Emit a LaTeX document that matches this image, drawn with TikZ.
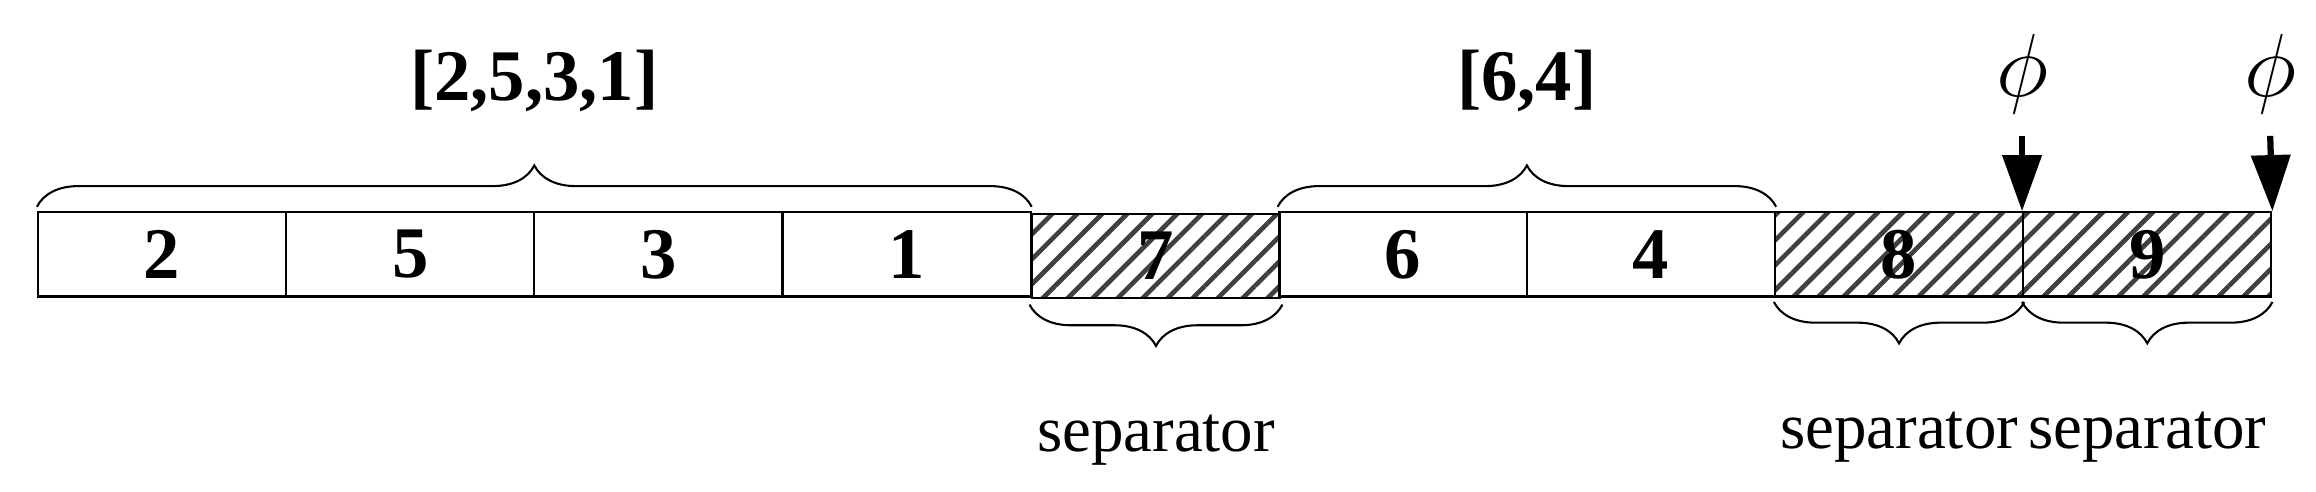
\documentclass[tikz,border=0pt]{standalone}
\usepackage{fontspec}
\setmainfont{Liberation Serif}
\usetikzlibrary{patterns.meta,decorations.pathreplacing,arrows.meta}
\begin{document}
\begin{tikzpicture}[x=0.01cm,y=-0.01cm,
  cell/.style={draw,minimum width=1.68cm,minimum height=0.57cm,inner sep=0,anchor=north west,font=\fontsize{14}{16}\selectfont\bfseries},
  hcell/.style={cell,pattern={Lines[angle=45,distance=3.4pt,line width=0.9pt]},pattern color=black!75},
  brc/.style={decorate,decoration={brace,amplitude=0.28cm,aspect=0.5}},
  lab/.style={font=\fontsize{12.5}{15}\selectfont},
  blab/.style={font=\fontsize{14}{16}\selectfont\bfseries},
  arr/.style={-{Triangle[length=0.38cm,width=0.26cm]},line width=1.2pt}]
\useasboundingbox (0,0) rectangle (1568,333);
\node[cell] (c1) at (25,143) {2};
\node[cell] (c2) at (193,143) {5};
\node[cell] (c3) at (361,143) {3};
\node[cell] (c4) at (529,143) {1};
\node[hcell] (c5) at (697,143) {7};
\node[cell] (c6) at (865,143) {6};
\node[cell] (c7) at (1033,143) {4};
\node[hcell] (c8) at (1201,143) {8};
\node[hcell] (c9) at (1369,143) {9};
\draw[brc] ([yshift=0.03cm]c1.north west) -- node[blab,above=0.52cm] (l1) {[2,5,3,1]} ([yshift=0.03cm]c4.north east);
\draw[brc] ([yshift=0.03cm]c6.north west) -- node[blab,above=0.52cm] (l2) {[6,4]} ([yshift=0.03cm]c7.north east);
\draw[brc] ([yshift=-0.03cm]c5.south east) -- node[lab,below=0.62cm] (s1) {separator} ([yshift=-0.03cm]c5.south west);
\draw[brc] ([yshift=-0.03cm]c8.south east) -- node[lab,below=0.62cm] (s2) {separator} ([yshift=-0.03cm]c8.south west);
\draw[brc] ([yshift=-0.03cm]c9.south east) -- node[lab,below=0.62cm] (s3) {separator} ([yshift=-0.03cm]c9.south west);
\coordinate (a1) at (1369,92);
\coordinate (a2) at (1537,92);
\draw[arr] (a1) -- (c9.north west);
\draw[arr] (a2) -- (c9.north east);
\node[font=\fontsize{16}{18}\selectfont] (p1) at (1369,50) {$\phi$};
\node[font=\fontsize{16}{18}\selectfont] (p2) at (1537,50) {$\phi$};
\end{tikzpicture}
\end{document}
